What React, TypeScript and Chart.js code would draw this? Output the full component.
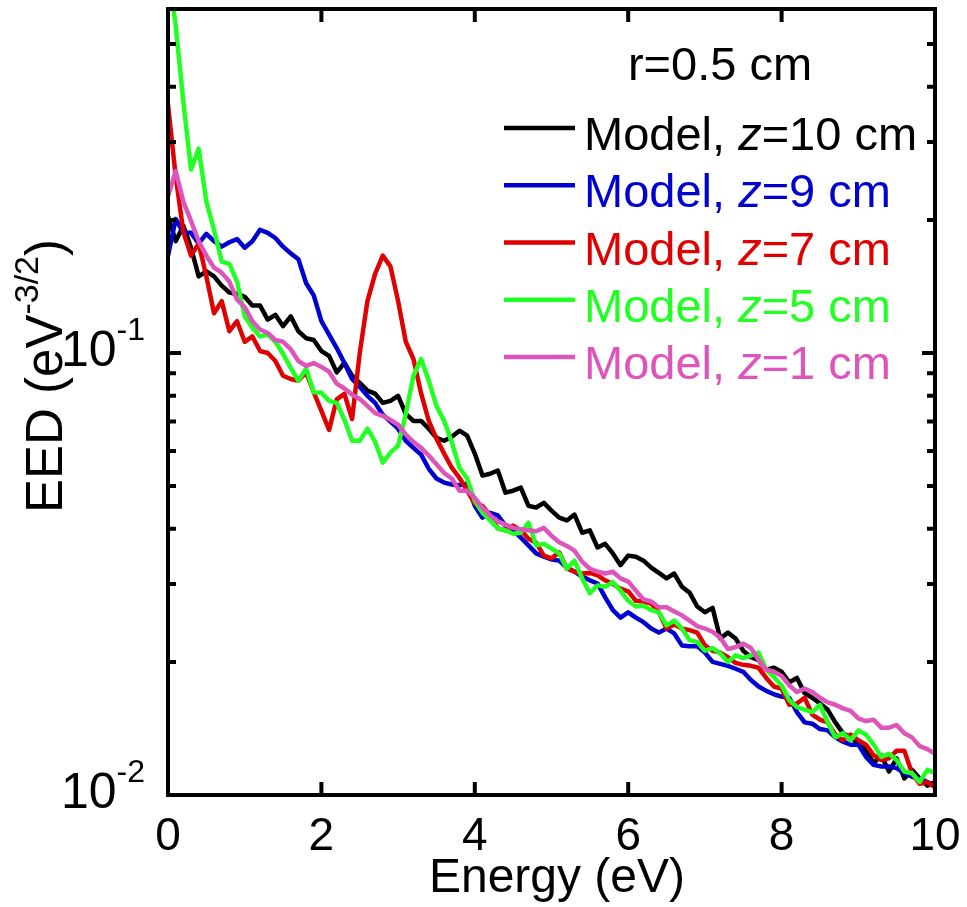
import React, { useEffect, useRef } from "react";
import { Chart, registerables } from "chart.js";

Chart.register(...registerables);

const FONT = "Arial, 'Liberation Sans', Helvetica, sans-serif";

// Energy grid (eV)
const energies = [
  0.0, 0.1, 0.2, 0.3, 0.4, 0.5, 0.6, 0.7, 0.8, 0.9,
  1.0, 1.1, 1.2, 1.3, 1.4, 1.5, 1.6, 1.7, 1.8, 1.9,
  2.0, 2.1, 2.2, 2.3, 2.4, 2.5, 2.6, 2.7, 2.8, 2.9,
  3.0, 3.1, 3.2, 3.3, 3.4, 3.5, 3.6, 3.7, 3.8, 3.9,
  4.0, 4.1, 4.2, 4.3, 4.4, 4.5, 4.6, 4.7, 4.8, 4.9,
  5.0, 5.1, 5.2, 5.3, 5.4, 5.5, 5.6, 5.7, 5.8, 5.9,
  6.0, 6.1, 6.2, 6.3, 6.4, 6.5, 6.6, 6.7, 6.8, 6.9,
  7.0, 7.1, 7.2, 7.3, 7.4, 7.5, 7.6, 7.7, 7.8, 7.9,
  8.0, 8.1, 8.2, 8.3, 8.4, 8.5, 8.6, 8.7, 8.8, 8.9,
  9.0, 9.1, 9.2, 9.3, 9.4, 9.5, 9.6, 9.7, 9.8, 9.9,
  10.0,
];

// EED (eV^-3/2), Model z=10 cm
const eedZ10 = [
  0.204, 0.179, 0.194, 0.173, 0.149, 0.153, 0.149, 0.142, 0.137, 0.136,
  0.134, 0.128, 0.128, 0.119, 0.122, 0.115, 0.121, 0.112, 0.108, 0.107,
  0.101, 0.0985, 0.0904, 0.0949, 0.0888, 0.0856, 0.0822, 0.0809, 0.0771, 0.0779,
  0.08, 0.0728, 0.0702, 0.0702, 0.0674, 0.0643, 0.0633, 0.0646, 0.0667, 0.065,
  0.0592, 0.0528, 0.0533, 0.0542, 0.0483, 0.0488, 0.0496, 0.0451, 0.0447, 0.0458,
  0.044, 0.0424, 0.0418, 0.0431, 0.0392, 0.0397, 0.0363, 0.037, 0.0352, 0.0331,
  0.0348, 0.0346, 0.0339, 0.0327, 0.0318, 0.0309, 0.0317, 0.0296, 0.0287, 0.0267,
  0.0259, 0.0265, 0.0226, 0.0233, 0.0226, 0.0212, 0.0205, 0.0202, 0.0192, 0.0194,
  0.019, 0.018, 0.0184, 0.017, 0.0166, 0.0161, 0.0156, 0.0146, 0.0138, 0.0135,
  0.0131, 0.0126, 0.0118, 0.0123, 0.0113, 0.0121, 0.0109, 0.0114, 0.0109, 0.0105,
  0.0107,
];

// Model z=9 cm
const eedZ9 = [
  0.166, 0.201, 0.187, 0.187, 0.177, 0.186, 0.179, 0.174, 0.178, 0.181,
  0.173, 0.179, 0.19, 0.187, 0.182, 0.174, 0.168, 0.163, 0.144, 0.135,
  0.118, 0.11, 0.1026, 0.0949, 0.0873, 0.0838, 0.08, 0.0771, 0.0725, 0.0699,
  0.0674, 0.0633, 0.061, 0.0589, 0.0547, 0.052, 0.0509, 0.0504, 0.0502, 0.0506,
  0.0451, 0.0424, 0.0435, 0.0429, 0.0407, 0.0397, 0.0382, 0.0367, 0.0352, 0.0346,
  0.0341, 0.0339, 0.0327, 0.032, 0.0312, 0.0306, 0.0301, 0.028, 0.0262, 0.0252,
  0.0259, 0.0252, 0.0246, 0.0238, 0.0233, 0.0238, 0.0232, 0.0218, 0.0217, 0.0217,
  0.021, 0.02, 0.0198, 0.0196, 0.0193, 0.019, 0.0182, 0.0176, 0.0172, 0.0169,
  0.0167, 0.0166, 0.0154, 0.0146, 0.0145, 0.0141, 0.014, 0.0135, 0.0132, 0.013,
  0.013, 0.0122, 0.0117, 0.0116, 0.0116, 0.0115, 0.0112, 0.011, 0.0109, 0.0107,
  0.0105,
];

// Model z=7 cm
const eedZ7 = [
  0.365, 0.251, 0.188, 0.166, 0.177, 0.149, 0.123, 0.131, 0.112, 0.118,
  0.106, 0.109, 0.101, 0.1, 0.0959, 0.0888, 0.0873, 0.0865, 0.0904, 0.0815,
  0.074, 0.067, 0.0785, 0.0808, 0.0709, 0.1, 0.131, 0.151, 0.166, 0.157,
  0.131, 0.106, 0.0969, 0.081, 0.0702, 0.064, 0.0592, 0.055, 0.0522, 0.0488,
  0.0456, 0.0451, 0.0429, 0.0401, 0.0397, 0.0407, 0.0397, 0.038, 0.0372, 0.0348,
  0.0343, 0.0354, 0.0325, 0.032, 0.0317, 0.0318, 0.0314, 0.0306, 0.03, 0.0293,
  0.0289, 0.0275, 0.0274, 0.0271, 0.0259, 0.0238, 0.0243, 0.0238, 0.0236, 0.0233,
  0.0218, 0.0212, 0.021, 0.0205, 0.0199, 0.0197, 0.0196, 0.0194, 0.0184, 0.0176,
  0.0174, 0.016, 0.0161, 0.0166, 0.0152, 0.0148, 0.0146, 0.0137, 0.0133, 0.0137,
  0.0133, 0.013, 0.0123, 0.012, 0.0121, 0.0126, 0.0126, 0.0112, 0.0106, 0.0107,
  0.0104,
];

// Model z=5 cm
const eedZ5 = [
  0.75, 0.55, 0.37, 0.26, 0.29, 0.22, 0.19, 0.161, 0.159, 0.145,
  0.121, 0.114, 0.109, 0.11, 0.106, 0.0995, 0.0925, 0.0865, 0.0923, 0.0815,
  0.0813, 0.0779, 0.0771, 0.0706, 0.0633, 0.0633, 0.0674, 0.063, 0.0565, 0.0595,
  0.0617, 0.0728, 0.0888, 0.0969, 0.0865, 0.0759, 0.0702, 0.0628, 0.055, 0.052,
  0.0463, 0.0435, 0.0418, 0.0401, 0.0397, 0.039, 0.0392, 0.0413, 0.0367, 0.037,
  0.0361, 0.0352, 0.0325, 0.0339, 0.0309, 0.0286, 0.0298, 0.0296, 0.0303, 0.029,
  0.0275, 0.0267, 0.0268, 0.0262, 0.0259, 0.0242, 0.0248, 0.0238, 0.0224, 0.0222,
  0.0212, 0.0215, 0.0209, 0.02, 0.0207, 0.0204, 0.0207, 0.021, 0.0192, 0.0185,
  0.0177, 0.0164, 0.0158, 0.0156, 0.0154, 0.016, 0.0146, 0.0135, 0.0138, 0.0133,
  0.014, 0.0137, 0.013, 0.0122, 0.0124, 0.012, 0.0113, 0.0112, 0.0107, 0.0114,
  0.0112,
];

// Model z=1 cm
const eedZ1 = [
  0.226, 0.258, 0.22, 0.199, 0.179, 0.166, 0.156, 0.152, 0.145, 0.132,
  0.127, 0.118, 0.113, 0.111, 0.107, 0.106, 0.102, 0.0959, 0.0935, 0.0949,
  0.093, 0.0907, 0.0852, 0.0831, 0.0805, 0.0787, 0.0759, 0.0731, 0.0721, 0.0706,
  0.0688, 0.0654, 0.0629, 0.061, 0.0586, 0.056, 0.0535, 0.052, 0.0488, 0.0488,
  0.047, 0.0446, 0.0429, 0.0416, 0.0409, 0.0402, 0.0399, 0.0397, 0.0395, 0.0402,
  0.0386, 0.0373, 0.0366, 0.0357, 0.0337, 0.0325, 0.032, 0.0317, 0.032, 0.0309,
  0.0304, 0.029, 0.0277, 0.0274, 0.0266, 0.0266, 0.026, 0.0255, 0.0248, 0.0241,
  0.0238, 0.0234, 0.0227, 0.0214, 0.0216, 0.022, 0.0215, 0.0202, 0.0192, 0.019,
  0.0186, 0.0177, 0.0171, 0.0174, 0.0171, 0.0166, 0.0162, 0.016, 0.0157, 0.0155,
  0.0149, 0.0147, 0.0148, 0.0142, 0.0142, 0.0144, 0.0138, 0.0135, 0.0129, 0.0127,
  0.0124,
];

const seriesValues = [eedZ10, eedZ9, eedZ7, eedZ5, eedZ1];
const seriesZ = ["10", "9", "7", "5", "1"];
const seriesColors = ["#000000", "#0000D0", "#E00000", "#22FF22", "#DD55BB"];

const xTicks = [0, 2, 4, 6, 8, 10];
const xTickLabels = ["0", "2", "4", "6", "8", "10"];
const yMajorTicks = [0.01, 0.1];
const yMajorBase = ["10", "10"];
const yMajorExp = ["-2", "-1"];
const yMinorTicks = [0.02, 0.03, 0.04, 0.05, 0.06, 0.07, 0.08, 0.09, 0.2, 0.3, 0.4, 0.5];

const xTitle = "Energy (eV)";
const yTitleMain = "EED (eV";
const yTitleSup = "-3/2";
const legendTitle = "r=0.5 cm";

const decorPlugin = {
  id: "decor",
  afterDraw(chart: any) {
    const { ctx, chartArea } = chart;
    const { left, right, top, bottom } = chartArea;
    const xs = chart.scales.x;
    const ys = chart.scales.y;
    ctx.save();
    ctx.strokeStyle = "#000";
    ctx.fillStyle = "#000";
    ctx.lineWidth = 4;
    ctx.lineCap = "butt";
    // frame
    ctx.strokeRect(left, top, right - left, bottom - top);
    // ticks (inward, mirrored on all sides)
    ctx.beginPath();
    xTicks.forEach((v) => {
      const px = xs.getPixelForValue(v);
      ctx.moveTo(px, bottom);
      ctx.lineTo(px, bottom - 13);
      ctx.moveTo(px, top);
      ctx.lineTo(px, top + 13);
    });
    yMajorTicks.forEach((v) => {
      const py = ys.getPixelForValue(v);
      ctx.moveTo(left, py);
      ctx.lineTo(left + 13, py);
      ctx.moveTo(right, py);
      ctx.lineTo(right - 13, py);
    });
    yMinorTicks.forEach((v) => {
      const py = ys.getPixelForValue(v);
      ctx.moveTo(left, py);
      ctx.lineTo(left + 8, py);
      ctx.moveTo(right, py);
      ctx.lineTo(right - 8, py);
    });
    ctx.stroke();

    // x tick labels
    ctx.font = `46px ${FONT}`;
    ctx.textAlign = "center";
    ctx.textBaseline = "alphabetic";
    xTicks.forEach((v, i) => {
      ctx.fillText(xTickLabels[i], xs.getPixelForValue(v), 850);
    });

    // y tick labels with superscripts
    yMajorTicks.forEach((v, i) => {
      const py = ys.getPixelForValue(v);
      ctx.font = `32px ${FONT}`;
      const we = ctx.measureText(yMajorExp[i]).width;
      ctx.textAlign = "right";
      ctx.fillText(yMajorExp[i], 145, py + 13 - 26);
      ctx.font = `50px ${FONT}`;
      ctx.fillText(yMajorBase[i], 145 - we, py + 13);
    });

    // x title
    ctx.font = `48px ${FONT}`;
    ctx.textAlign = "center";
    ctx.fillText(xTitle, 557, 892);

    // y title (rotated)
    ctx.save();
    ctx.translate(62, 513);
    ctx.rotate(-Math.PI / 2);
    ctx.textAlign = "left";
    ctx.font = `51px ${FONT}`;
    ctx.fillText(yTitleMain, 0, 0);
    let w = ctx.measureText(yTitleMain).width;
    ctx.font = `34px ${FONT}`;
    ctx.fillText(yTitleSup, w, -24);
    w += ctx.measureText(yTitleSup).width;
    ctx.font = `51px ${FONT}`;
    ctx.fillText(")", w, 0);
    ctx.restore();

    // legend
    ctx.font = `47px ${FONT}`;
    ctx.textAlign = "center";
    ctx.fillStyle = "#000";
    ctx.fillText(legendTitle, 720, 80);
    ctx.textAlign = "left";
    chart.data.datasets.forEach((ds: any, i: number) => {
      const ly = 128 + i * 57.25;
      ctx.strokeStyle = ds.borderColor;
      ctx.lineWidth = 4.5;
      ctx.beginPath();
      ctx.moveTo(504, ly);
      ctx.lineTo(575, ly);
      ctx.stroke();
      ctx.fillStyle = ds.borderColor;
      const by = ly + 22;
      let x = 584;
      ctx.font = `47px ${FONT}`;
      ctx.fillText("Model, ", x, by);
      x += ctx.measureText("Model, ").width;
      ctx.font = `italic 47px ${FONT}`;
      ctx.fillText("z", x, by);
      x += ctx.measureText("z").width;
      ctx.font = `47px ${FONT}`;
      ctx.fillText(`=${seriesZ[i]} cm`, x, by);
    });
    ctx.restore();
  },
};

export default function App() {
  const ref = useRef<HTMLCanvasElement>(null);
  useEffect(() => {
    document.body.style.margin = "0";
    const datasets = seriesValues.map((vals, i) => ({
      label: `Model, z=${seriesZ[i]} cm`,
      data: energies.map((e, j) => ({ x: e, y: vals[j] })),
      borderColor: seriesColors[i],
      backgroundColor: seriesColors[i],
      borderWidth: 4.5,
      pointRadius: 0,
      tension: 0,
      fill: false,
      borderJoinStyle: "round" as const,
      order: seriesValues.length - 1 - i,
    }));
    const chart = new Chart(ref.current as HTMLCanvasElement, {
      type: "line",
      data: { datasets },
      options: {
        responsive: false,
        animation: false,
        devicePixelRatio: 1,
        layout: { padding: { top: 9, right: 32, left: 0, bottom: 0 } },
        plugins: { legend: { display: false }, tooltip: { enabled: false } },
        scales: {
          x: {
            type: "linear",
            min: 0,
            max: 10,
            grid: { display: false },
            border: { display: false },
            ticks: { display: false },
            afterFit: (s: any) => {
              s.height = 112;
            },
          },
          y: {
            type: "logarithmic",
            min: 0.01,
            max: 0.6,
            grid: { display: false },
            border: { display: false },
            ticks: { display: false },
            afterFit: (s: any) => {
              s.width = 168;
            },
          },
        },
      } as any,
      plugins: [decorPlugin],
    });
    return () => chart.destroy();
  }, []);
  return <canvas ref={ref} width={967} height={907} style={{ display: "block" }} />;
}
